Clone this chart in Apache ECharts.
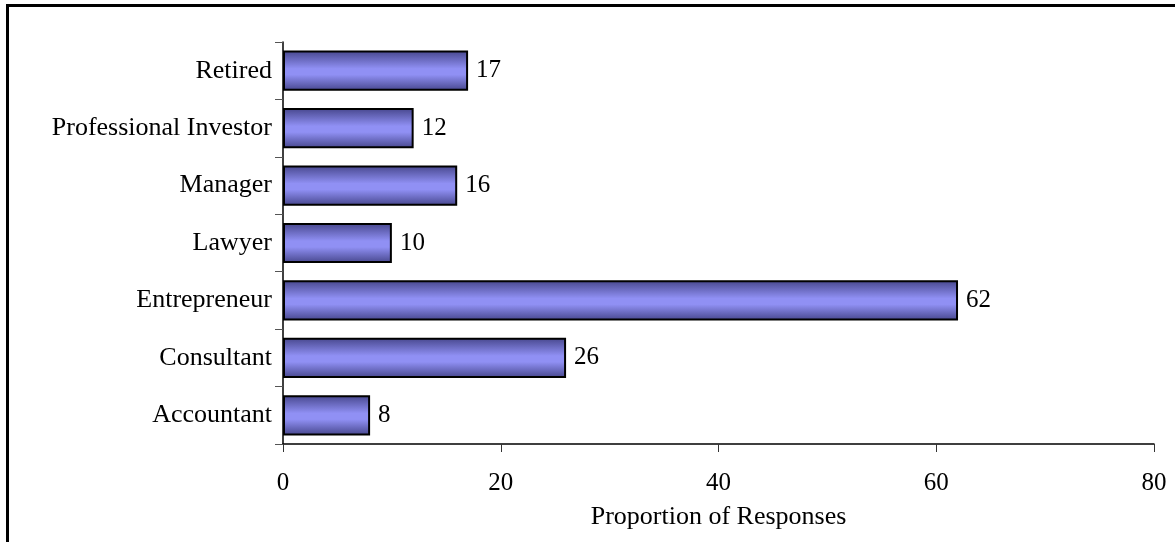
<!DOCTYPE html>
<html lang="en">
<head>
    <meta charset="UTF-8">
    <title>Proportion of Responses</title>
    <style>
        html, body { margin: 0; padding: 0; background: #fff; }
    </style>
</head>
<body>
    <script src="https://cdn.jsdelivr.net/npm/echarts@6/dist/echarts.min.js"></script>
    <div id="main" style="width: 1175px;height: 542px;"></div>
    <script>
        // data, bottom to top
        var categories = ['Accountant', 'Consultant', 'Entrepreneur', 'Lawyer', 'Manager', 'Professional Investor', 'Retired'];
        var responses = [8, 26, 62, 10, 16, 12, 17];
        var xTicks = [0, 20, 40, 60, 80];

        var serif = '"Liberation Serif", "Times New Roman", serif';
        var mCharts = echarts.init(document.getElementById('main'));

        var option = {
            animation: false,
            backgroundColor: '#fff',
            grid: {
                left: 283,
                right: 21,
                top: 42,
                bottom: 98
            },
            // frame lines (top and left only)
            graphic: [
                { type: 'line', shape: { x1: 6, y1: 5.5, x2: 1175, y2: 5.5 }, style: { stroke: '#000', lineWidth: 3 } },
                { type: 'line', shape: { x1: 7.5, y1: 4, x2: 7.5, y2: 542 }, style: { stroke: '#000', lineWidth: 3 } }
            ],
            xAxis: {
                type: 'value',
                min: xTicks[0],
                max: xTicks[xTicks.length - 1],
                interval: 20,
                name: 'Proportion of Responses',
                nameLocation: 'middle',
                nameGap: 60,
                nameTextStyle: { fontFamily: serif, fontSize: 26, color: '#000' },
                axisLine: { show: true, lineStyle: { color: '#000', width: 1.5 } },
                axisTick: { show: true, length: 8, lineStyle: { color: '#333' } },
                axisLabel: { margin: 27, fontFamily: serif, fontSize: 25, color: '#000' },
                splitLine: { show: false }
            },
            yAxis: {
                type: 'category',
                data: categories,
                axisLine: { show: true, lineStyle: { color: '#000', width: 1.5 } },
                axisTick: { show: true, length: 8, lineStyle: { color: '#555' } },
                axisLabel: { margin: 11, fontFamily: serif, fontSize: 26, color: '#000' }
            },
            series: [
                {
                    type: 'bar',
                    data: responses,
                    barCategoryGap: '30%',
                    itemStyle: {
                        borderColor: '#000',
                        borderWidth: 2,
                        color: new echarts.graphic.LinearGradient(0, 0, 0, 1, [
                            { offset: 0, color: '#46468c' },
                            { offset: 0.45, color: '#9090f4' },
                            { offset: 0.6, color: '#9090f4' },
                            { offset: 1, color: '#46468c' }
                        ])
                    },
                    label: {
                        show: true,
                        position: 'right',
                        distance: 8,
                        fontFamily: serif,
                        fontSize: 25,
                        color: '#000'
                    }
                }
            ]
        };
        mCharts.setOption(option);
    </script>
</body>
</html>
